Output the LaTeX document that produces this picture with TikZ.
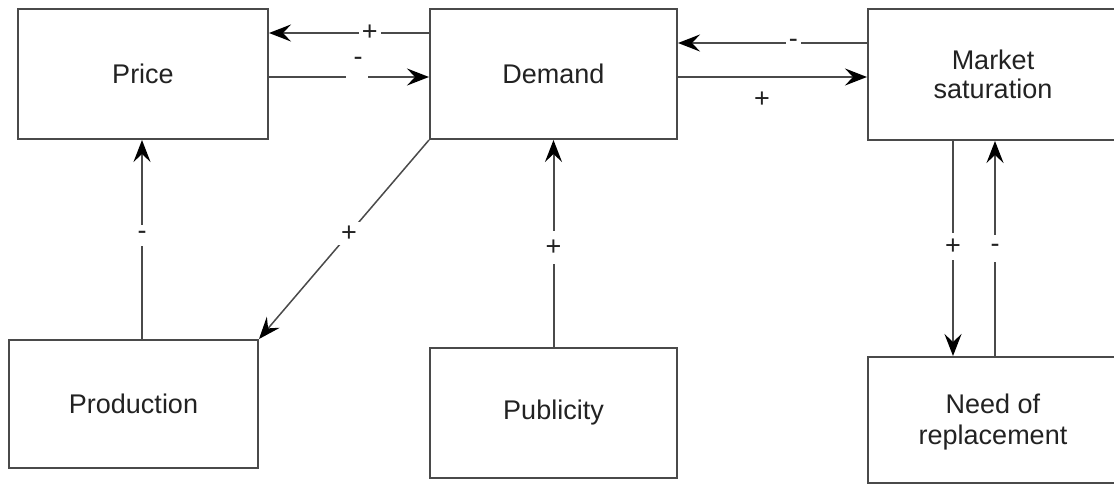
\documentclass[tikz,border=0pt]{standalone}
\usepackage{fontspec}
\setmainfont{Liberation Sans}
\usetikzlibrary{arrows.meta}
\definecolor{ink}{HTML}{4A4A4A}
\definecolor{txt}{HTML}{222222}
\begin{document}
\begin{tikzpicture}[x=1pt,y=-1pt,
  font=\fontsize{27}{30}\selectfont,
  box/.style={draw=ink, line width=2pt, fill=white, inner sep=0pt,
    text=txt, align=center},
  arr/.style={draw=ink, line width=2pt,
    -{Stealth[length=22pt,width=17pt,inset=8pt,fill=black,color=black]}},
  sign/.style={text=txt, fill=white, inner xsep=3pt, inner ysep=6pt},
  gapmask/.style={fill=white, inner sep=0pt, minimum width=22pt, minimum height=6pt}]
\useasboundingbox (0,0) rectangle (1114,487);
\fill[white] (0,0) rectangle (1114,487);

% boxes
\node[box, minimum width=250pt, minimum height=130pt] (price) at (143,74) {Price};
\node[box, minimum width=247pt, minimum height=130pt] (demand) at (553.5,74) {Demand};
\node[box, minimum width=250pt, minimum height=131pt] (market) at (993,74.5) {Market\\[-1pt]saturation};
\node[box, minimum width=249pt, minimum height=128pt] (production) at (133.5,404) {Production};
\node[box, minimum width=247pt, minimum height=130pt] (publicity) at (553.5,413) {Publicity};
\node[box, minimum width=250pt, minimum height=126pt, text depth=2pt] (need) at (993,420) {Need of\\[1pt]replacement};

% Demand -> Price (+)
\draw[arr] (demand.west |- 0,33) -- node[sign, pos=0.37] {+} (price.east |- 0,33);
% Price -> Demand (-)
\draw[arr] (price.east |- 0,77) -- node[gapmask, pos=0.55] {} (demand.west |- 0,77);
\node[text=txt, inner sep=0pt] (pdminus) at (358,61) {-};

% Market saturation -> Demand (-)
\draw[arr] (market.west |- 0,43) -- node[sign, pos=0.39, inner ysep=4pt] {-} (demand.east |- 0,43);
% Demand -> Market saturation (+)
\draw[arr] (demand.east |- 0,77) -- (market.west |- 0,77);
\node[text=txt, inner sep=0pt] (dmplus) at (762,100) {+};

% Demand -> Production (+)
\draw[arr, line width=1.5pt] (demand.south west) -- node[sign, pos=0.47, inner sep=4pt] {+} (production.north east);

% Production -> Price (-)
\draw[arr] (production.north -| 142,0) -- node[sign, pos=0.52] {-} (price.south -| 142,0);

% Publicity -> Demand (+)
\draw[arr] (publicity.north) -- node[sign, pos=0.48, inner ysep=9pt] {+} (demand.south -| publicity.north);

% Market saturation -> Need of replacement (+)
\draw[arr] (market.south -| 953,0) -- node[sign, pos=0.49] {+} (need.north -| 953,0);
% Need of replacement -> Market saturation (-)
\draw[arr] (need.north -| 995,0) -- node[sign, pos=0.5, inner ysep=9pt] {-} (market.south -| 995,0);
\end{tikzpicture}
\end{document}
